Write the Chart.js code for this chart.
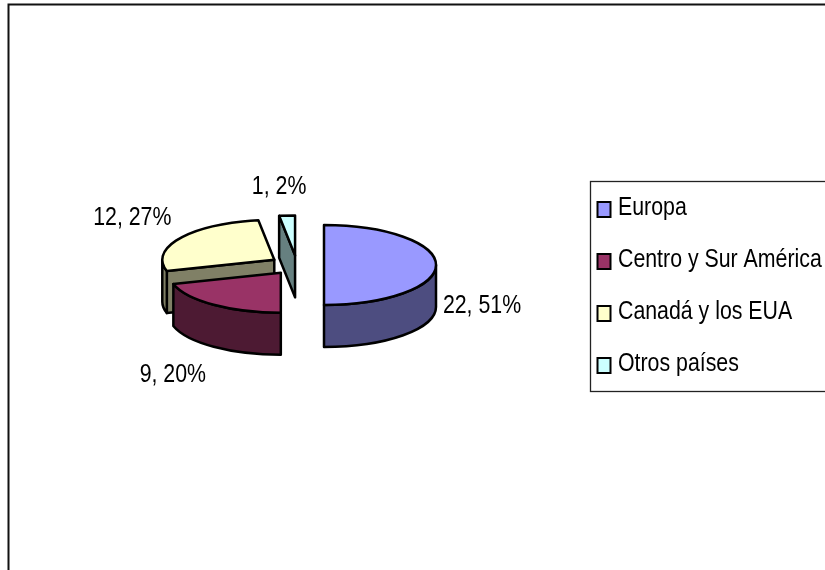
<!DOCTYPE html>
<html>
<head>
<meta charset="utf-8">
<style>html,body{margin:0;padding:0;background:#fff}canvas{display:block}</style>
<script src="https://cdn.jsdelivr.net/npm/chart.js@4"></script>
</head>
<body>
<canvas id="c" width="825" height="570"></canvas>
<script>
const categories = ["Europa", "Centro y Sur América", "Canadá y los EUA", "Otros países"];
const values = [22, 9, 12, 1];
const percents = [51, 20, 27, 2];

const topColors = ["#9999FF", "#993366", "#FFFFCC", "#CCFFFF"];
const wallColors = ["#4D4D80", "#4D1A33", "#808066", "#668080"];
const FONT = "26px 'Liberation Sans',Arial,sans-serif";
const NARROW = 0.82;
const TILT = 0.357, DEPTH = 42, EXPLODE = 27, LW = 2.5;
const paintOrder = [3, 2, 0, 1];
const labelShift = [[158, 41], [-108, 102], [-142, -42], [-16, -69]];
const legendRows = [208, 260, 312, 364];

function narrowText(c, text, x, y, align) {
  c.save();
  c.translate(x, y);
  c.scale(NARROW, 1);
  c.font = FONT; c.fillStyle = "#000"; c.textAlign = align; c.textBaseline = "middle";
  c.fillText(text, 0, 0);
  c.restore();
}

const pie3d = {
  id: "pie3d",
  beforeDraw(chart) {
    const c = chart.ctx;
    c.save();
    c.strokeStyle = "#111"; c.lineWidth = 2;
    c.beginPath(); c.moveTo(8.5, 572); c.lineTo(8.5, 4.5); c.lineTo(827, 4.5); c.stroke();
    c.lineWidth = 1.3; c.strokeStyle = "#222";
    c.strokeRect(590.5, 181.5, 240, 210);
    categories.forEach((t, i) => {
      c.fillStyle = topColors[i]; c.strokeStyle = "#000"; c.lineWidth = 2;
      c.fillRect(597.5, legendRows[i] - 6, 13, 15);
      c.strokeRect(597.5, legendRows[i] - 6, 13, 15);
      narrowText(c, t, 618, legendRows[i], "left");
    });
    c.restore();
  },
  beforeDatasetDraw(chart, args) {
    const c = chart.ctx, arcs = args.meta.data;
    const cy0 = (chart.chartArea.top + chart.chartArea.bottom) / 2;
    c.save();
    c.lineJoin = "round"; c.lineWidth = LW; c.strokeStyle = "#000";
    const geo = arcs.map(el => {
      const mid = (el.startAngle + el.endAngle) / 2;
      const off = el.options.offset;
      return { a0: el.startAngle, a1: el.endAngle, R: el.outerRadius, fill: el.options.backgroundColor,
        x: el.x + Math.cos(mid) * off, y: cy0 + (el.y + Math.sin(mid) * off - cy0) * TILT };
    });
    const rim = (g, a) => [g.x + Math.cos(a) * g.R, g.y + Math.sin(a) * g.R * TILT];
    const shape = (pts, fill) => {
      c.beginPath();
      pts.forEach((p, i) => i ? c.lineTo(p[0], p[1]) : c.moveTo(p[0], p[1]));
      c.closePath(); c.fillStyle = fill; c.fill(); c.stroke();
    };
    const edgeWall = (g, a, fill) => {
      const r = rim(g, a);
      shape([[g.x, g.y], r, [r[0], r[1] + DEPTH], [g.x, g.y + DEPTH]], fill);
    };
    paintOrder.forEach(i => {
      const g = geo[i], wall = wallColors[i];
      if (Math.cos(g.a0) < -1e-6) edgeWall(g, g.a0, wall);
      if (Math.cos(g.a1) > 1e-6) edgeWall(g, g.a1, wall);
      const w0 = Math.max(g.a0, 0), w1 = Math.min(g.a1, Math.PI);
      if (w1 > w0) {
        c.beginPath();
        c.ellipse(g.x, g.y, g.R, g.R * TILT, 0, w0, w1);
        c.ellipse(g.x, g.y + DEPTH, g.R, g.R * TILT, 0, w1, w0, true);
        c.closePath(); c.fillStyle = wall; c.fill(); c.stroke();
      }
      c.beginPath();
      c.moveTo(g.x, g.y);
      c.ellipse(g.x, g.y, g.R, g.R * TILT, 0, g.a0, g.a1);
      c.closePath(); c.fillStyle = g.fill; c.fill(); c.stroke();
    });
    geo.forEach((g, i) => {
      narrowText(c, values[i] + ", " + percents[i] + "%", g.x + labelShift[i][0], g.y + labelShift[i][1], "center");
    });
    c.restore();
    return false;
  }
};

new Chart(document.getElementById("c"), {
  type: "pie",
  plugins: [pie3d],
  data: {
    labels: categories,
    datasets: [{ data: values, backgroundColor: topColors, borderWidth: 0, offset: EXPLODE }]
  },
  options: {
    responsive: false,
    animation: false,
    radius: 112,
    rotation: 0,
    layout: { padding: { left: 0, right: 231, top: 0, bottom: 40 } },
    plugins: {
      tooltip: { enabled: false },
      legend: { display: false }
    }
  }
});
</script>
</body>
</html>
